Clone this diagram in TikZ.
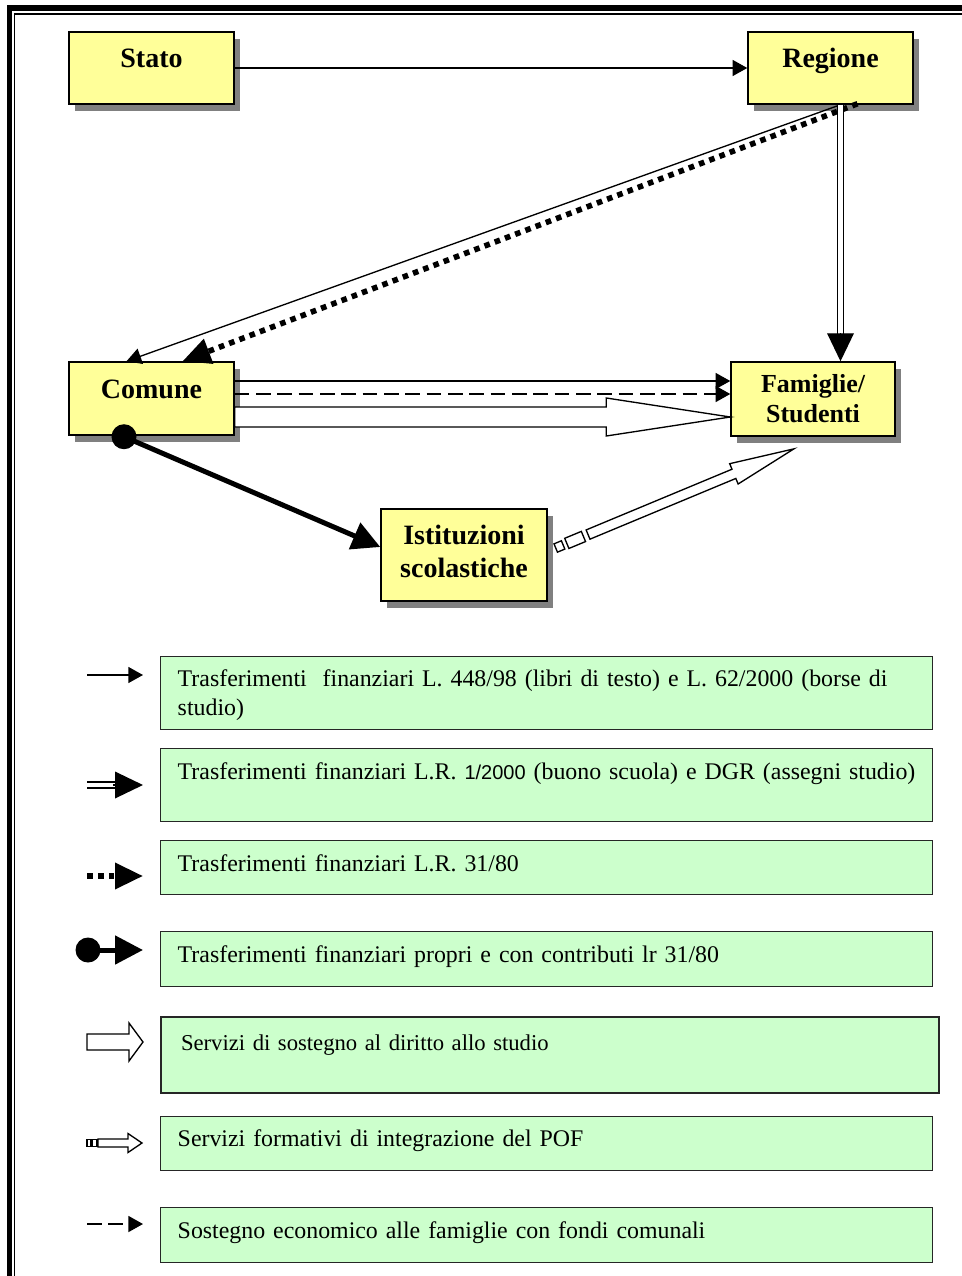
\documentclass[tikz,border=0pt]{standalone}
\usepackage{fontspec}
\setmainfont{Liberation Serif}
\newfontfamily\arialfont{Liberation Sans}
\usetikzlibrary{arrows.meta,calc,shadows}
\definecolor{giallo}{HTML}{FFFF99}
\definecolor{verde}{HTML}{CCFFCC}
\definecolor{ombra}{HTML}{808080}
\newdimen\px \px=0.75pt
\tikzset{every node/.style={align=center}, >={Triangle[length=11pt,width=12pt]},
  ente/.style={draw, line width=1.1pt, fill=giallo, inner sep=0pt,
    minimum width=165\px, minimum height=72\px,
    font=\fontsize{21}{25}\selectfont\bfseries,
    drop shadow={shadow xshift=4.5pt, shadow yshift=-5pt, fill=ombra, opacity=1}},
  unariga/.style={text height=8pt, text depth=8pt},
  voce/.style={draw=black!85, line width=1.1pt, fill=verde, anchor=north west,
    align=left, text width=738\px, inner xsep=17\px, inner ysep=0pt,
    font=\fontsize{17.9}{21.75}\selectfont},
  trasf/.style={line width=1pt},
  testa/.style={line width=1pt, -{Triangle[length=21pt,width=20pt]}},
  doppia/.style={line width=1pt, double, double distance=3.5pt},
  puntini/.style={line width=4.2pt, dash pattern=on 4.2pt off 4pt,
    -{Triangle[length=21pt,width=19pt]}},
  spessa/.style={line width=3.75pt, -{Triangle[length=21pt,width=21pt]}},
  tratteggio/.style={line width=1.3pt, dash pattern=on 11pt off 5pt, ->},
  blocco/.style={line width=1pt, fill=white, line join=miter}}
\begin{document}
\begin{tikzpicture}[x=0.75pt,y=-0.75pt]
\clip (0,0) rectangle (962,1276);
\draw[line width=4.1pt] (9.5,1300) -- (9.5,8) -- (1000,8);
\draw[line width=1.1pt] (14.5,1300) -- (14.5,13.8) -- (1000,13.8);

\node[ente, unariga] (stato) at (151.5,68) {Stato};
\node[ente, unariga] (regione) at (830.5,68) {Regione};
\node[ente, unariga, minimum height=73\px] (comune) at (151.5,398.5) {Comune};
\node[ente, minimum width=164\px, minimum height=74\px,
  font=\fontsize{19.5}{22.5}\selectfont\bfseries] (famiglie) at (813,399) {Famiglie/\\Studenti};
\node[ente, minimum width=166\px, minimum height=92\px, text depth=6pt,
  font=\fontsize{21}{24.75}\selectfont\bfseries] (istituzioni) at (464,555) {Istituzioni\\scolastiche};

\draw[trasf, ->] (stato) -- (regione);
\draw[trasf, ->] ($(regione.south)+(10,0)$) -- ($(comune.north)+(-25,0)$);
\draw[puntini] ($(regione.south)+(27,-1)$) -- ($(comune.north)+(31,0)$);
\draw[doppia] ($(regione.south)+(10,0)$) -- ($(famiglie.north)+(27.5,-26)$);
\draw[testa] ($(famiglie.north)+(27.5,-28)$) -- ($(famiglie.north)+(27.5,0)$);

\draw[trasf, ->] ($(comune.east)+(0,-17.5)$) -- ($(famiglie.west)+(0,-18)$);
\draw[tratteggio] ($(comune.east)+(0,-4.5)$) -- ($(famiglie.west)+(0,-5)$);
\coordinate (cb) at ($(comune.east)+(0,18.5)$);
\coordinate (fb) at ($(famiglie.west)+(0,18)$);
\draw[blocco] ($(cb)+(0,-10)$) -- ($(fb)+(-124,-10)$) -- ++(0,-9) -- (fb)
  -- ++(-124,19) -- ++(0,-9) -- ($(cb)+(0,10)$) -- cycle;

\coordinate (pallino) at ($(comune.south)+(-27.5,1)$);
\fill (pallino) circle[radius=12.5];
\draw[spessa] (pallino) -- ($(istituzioni.west)+(0,-8)$);

\coordinate (ia) at ($(istituzioni.east)+(8,-7)$);
\begin{scope}[shift={(ia)}, rotate=22.6]
  \draw[blocco] (0,-4.5) rectangle (8,4.5);
  \draw[blocco] (12,-5.5) rectangle (30,5.5);
  \draw[blocco] (35,-5) -- (193,-5) -- (193,-11) -- (258,0) -- (193,11) -- (193,5) -- (35,5) -- cycle;
\end{scope}

\node[voce, text height=30\px, text depth=43\px] (leg1) at (160,656)
  {Trasferimenti~~finanziari L. 448/98 (libri di testo) e L. 62/2000 (borse di\\studio)};
\node[voce, text height=31\px, text depth=42\px] (leg2) at (160,748)
  {\mbox{Trasferimenti finanziari L.R. {\arialfont\fontsize{15}{18}\selectfont 1/2000} (buono scuola) e DGR (assegni studio)}};
\node[voce, text height=31\px, text depth=23\px] (leg3) at (160,840) {Trasferimenti finanziari L.R. 31/80};
\node[voce, text height=31\px, text depth=24\px] (leg4) at (160,931) {Trasferimenti finanziari propri e con contributi lr 31/80};
\node[voce, text height=33\px, text depth=43\px, inner xsep=20\px, line width=1.5pt,
  font=\fontsize{17}{21}\selectfont] (leg5) at (160,1016) {Servizi di sostegno al diritto allo studio};
\node[voce, text height=30\px, text depth=24\px] (leg6) at (160,1116) {Servizi formativi di integrazione del POF};
\node[voce, text height=31\px, text depth=24\px] (leg7) at (160,1207) {Sostegno economico alle famiglie con fondi comunali};

\coordinate (k1) at (87,675);
\draw[trasf, ->] (k1) -- ++(56,0);
\coordinate (k2) at (87,785);
\draw[doppia] (k2) -- ++(28,0);
\draw[testa] ($(k2)+(26,0)$) -- ++(30,0);
\coordinate (k3) at (87,876);
\draw[puntini] (k3) -- ++(56,0);
\coordinate (k4) at (88,950);
\fill (k4) circle[radius=12.5];
\draw[spessa] (k4) -- ++(55,0);
\coordinate (k5) at (87,1042);
\draw[blocco] ($(k5)+(0,-8)$) -- ++(42,0) -- ++(0,-11) -- ($(k5)+(56,0)$)
  -- ++(-14,19) -- ++(0,-11) -- ++(-42,0) -- cycle;
\coordinate (k6) at (87,1143);
\draw[blocco] ($(k6)+(0,-3.5)$) rectangle ++(3.5,7);
\draw[blocco] ($(k6)+(5,-3.5)$) rectangle ++(5,7);
\draw[blocco] ($(k6)+(11,-4)$) -- ++(30,0) -- ++(0,-5.5) -- ($(k6)+(55,0)$)
  -- ++(-14,9.5) -- ++(0,-5.5) -- ++(-30,0) -- cycle;
\coordinate (k7) at (87,1224);
\draw[tratteggio] (k7) -- ++(56,0);
\end{tikzpicture}
\end{document}
